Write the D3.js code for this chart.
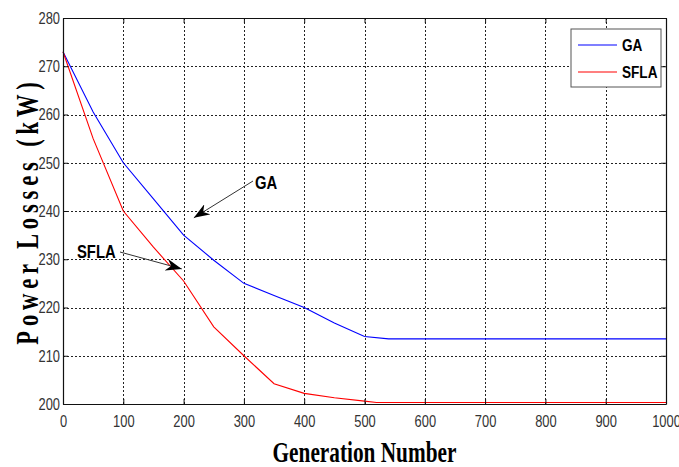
<!DOCTYPE html>
<html>
<head>
<meta charset="utf-8">
<script src="https://cdn.jsdelivr.net/npm/d3@7"></script>
<style>
  body { margin: 0; background: #fff; }
  svg { display: block; }
  .tick text { font-family: "Liberation Sans", Arial, sans-serif; font-size: 17px; fill: #333; }
</style>
</head>
<body>
<div id="chart"></div>
<script>
// generation numbers and losses
var generations = [0, 50, 100, 150, 200, 250, 300, 350, 400, 450, 500, 540, 600, 700, 800, 900, 1000];
var gaLoss =      [273, 260.5, 250, 242.5, 235, 229.8, 225, 222.5, 220, 216.8, 214, 213.5, 213.5, 213.5, 213.5, 213.5, 213.5];
var sflaGen =     [0, 50, 100, 150, 200, 250, 300, 350, 400, 450, 500, 520, 600, 700, 800, 900, 1000];
var sflaLoss =    [273, 255, 240, 232.5, 225.5, 216, 210, 204.2, 202.2, 201.3, 200.6, 200.3, 200.3, 200.3, 200.3, 200.3, 200.3];

var xTicks = [0, 100, 200, 300, 400, 500, 600, 700, 800, 900, 1000];
var yTicks = [200, 210, 220, 230, 240, 250, 260, 270, 280];

var seriesNames = ["GA", "SFLA"];
var seriesColors = ["#0000ff", "#ff0000"];

var width = 679,
	height = 467;
var margin = { top: 18, right: 13, bottom: 63, left: 63 };
var squeeze = 0.76; // the picture's sans text is narrow

var svg = d3.select("#chart")
	.append("svg")
	.attr("width", width)
	.attr("height", height);

var x = d3.scaleLinear().domain([0, 1000]).range([margin.left, width - margin.right]);
var y = d3.scaleLinear().domain([200, 280]).range([height - margin.bottom, margin.top]);

var plotW = width - margin.left - margin.right;
var plotH = height - margin.top - margin.bottom;

// dotted grid
var grid = svg.append("g").attr("stroke", "#222").attr("stroke-dasharray", "2,2").attr("stroke-width", 1);
grid.selectAll("line.gx")
	.data(xTicks.slice(1, -1))
	.enter()
	.append("line")
	.attr("x1", function (d) { return Math.round(x(d)) + 0.5; })
	.attr("x2", function (d) { return Math.round(x(d)) + 0.5; })
	.attr("y1", margin.top)
	.attr("y2", height - margin.bottom);
grid.selectAll("line.gy")
	.data(yTicks.slice(1, -1))
	.enter()
	.append("line")
	.attr("y1", function (d) { return Math.round(y(d)) + 0.5; })
	.attr("y2", function (d) { return Math.round(y(d)) + 0.5; })
	.attr("x1", margin.left)
	.attr("x2", width - margin.right);

// lines
var lineGA = d3.line()
	.x(function (d, i) { return x(generations[i]); })
	.y(function (d) { return y(d); });
var lineSFLA = d3.line()
	.x(function (d, i) { return x(sflaGen[i]); })
	.y(function (d) { return y(d); });

svg.append("path")
	.datum(gaLoss)
	.attr("fill", "none")
	.attr("stroke", seriesColors[0])
	.attr("stroke-width", 1.1)
	.attr("d", lineGA);
svg.append("path")
	.datum(sflaLoss)
	.attr("fill", "none")
	.attr("stroke", seriesColors[1])
	.attr("stroke-width", 1.1)
	.attr("d", lineSFLA);

// axes, ticks inward on all four sides
var axBottom = svg.append("g")
	.attr("transform", "translate(0," + (height - margin.bottom) + ")")
	.call(d3.axisBottom(x).tickValues(xTicks).tickFormat(d3.format("d")).tickSizeInner(-5).tickSizeOuter(0).tickPadding(10));
var axLeft = svg.append("g")
	.attr("transform", "translate(" + margin.left + ",0)")
	.call(d3.axisLeft(y).tickValues(yTicks).tickSizeInner(-5).tickSizeOuter(0).tickPadding(4));
var axTop = svg.append("g")
	.attr("transform", "translate(0," + margin.top + ")")
	.call(d3.axisTop(x).tickValues(xTicks).tickSizeInner(-5).tickSizeOuter(0).tickFormat(""));
var axRight = svg.append("g")
	.attr("transform", "translate(" + (width - margin.right) + ",0)")
	.call(d3.axisRight(y).tickValues(yTicks).tickSizeInner(-5).tickSizeOuter(0).tickFormat(""));

[axBottom, axLeft, axTop, axRight].forEach(function (g) {
	g.select(".domain").attr("stroke", "#111").attr("stroke-width", 1.2);
	g.selectAll(".tick line").attr("stroke", "#111");
});
axBottom.selectAll(".tick text")
	.attr("dy", "0.75em")
	.attr("transform", "scale(" + squeeze + ",1)");
axLeft.selectAll(".tick text")
	.attr("x", -3 / squeeze)
	.attr("transform", "scale(" + squeeze + ",1)");

// axis titles
svg.append("text")
	.attr("transform", "translate(" + (margin.left + plotW / 2) + ",462) scale(0.71,1)")
	.attr("text-anchor", "middle")
	.style("font-family", "'Liberation Serif', 'Times New Roman', serif")
	.style("font-weight", "bold")
	.style("font-size", "30px")
	.text("Generation Number");

svg.append("text")
	.attr("transform", "translate(38," + (margin.top + plotH / 2) + ") rotate(-90) scale(0.75,1.05)")
	.attr("text-anchor", "middle")
	.style("font-family", "'Liberation Serif', 'Times New Roman', serif")
	.style("font-weight", "bold")
	.style("font-size", "30px")
	.style("letter-spacing", "6.5px")
	.text("Power Losses (kW)");

// annotations with arrows
svg.append("defs")
	.append("marker")
	.attr("id", "head")
	.attr("viewBox", "0 0 16 12")
	.attr("refX", 16)
	.attr("refY", 6)
	.attr("markerWidth", 16)
	.attr("markerHeight", 12)
	.attr("markerUnits", "userSpaceOnUse")
	.attr("orient", "auto")
	.append("path")
	.attr("d", "M0,0 L16,6 L0,12 L5,6 Z")
	.attr("fill", "#000");

var notes = [
	{ label: "GA", tx: 255, ty: 189, x1: 253, y1: 181, gen: 217, loss: 238.6 },
	{ label: "SFLA", tx: 77, ty: 258, x1: 120, y1: 252, gen: 197, loss: 228 }
];
svg.selectAll("line.note")
	.data(notes)
	.enter()
	.append("line")
	.attr("x1", function (d) { return d.x1; })
	.attr("y1", function (d) { return d.y1; })
	.attr("x2", function (d) { return x(d.gen); })
	.attr("y2", function (d) { return y(d.loss); })
	.attr("stroke", "#333")
	.attr("stroke-width", 1)
	.attr("marker-end", "url(#head)");
svg.selectAll("text.note")
	.data(notes)
	.enter()
	.append("text")
	.attr("transform", function (d) { return "translate(" + d.tx + "," + d.ty + ") scale(0.78,1)"; })
	.style("font-family", "'Liberation Sans', Arial, sans-serif")
	.style("font-weight", "bold")
	.style("font-size", "19px")
	.text(function (d) { return d.label; });

// legend
var legend = svg.append("g").attr("transform", "translate(571,29)");
legend.append("rect")
	.attr("width", 90)
	.attr("height", 58)
	.attr("fill", "#fff")
	.attr("stroke", "#555")
	.attr("stroke-width", 1);
seriesNames.forEach(function (name, i) {
	legend.append("line")
		.attr("x1", 7)
		.attr("x2", 46)
		.attr("y1", 16 + i * 27)
		.attr("y2", 16 + i * 27)
		.attr("stroke", seriesColors[i])
		.attr("stroke-width", 1.1);
	legend.append("text")
		.attr("transform", "translate(51," + (22 + i * 27) + ") scale(0.8,1)")
		.style("font-family", "'Liberation Sans', Arial, sans-serif")
		.style("font-weight", "bold")
		.style("font-size", "17px")
		.text(name);
});
</script>
</body>
</html>
